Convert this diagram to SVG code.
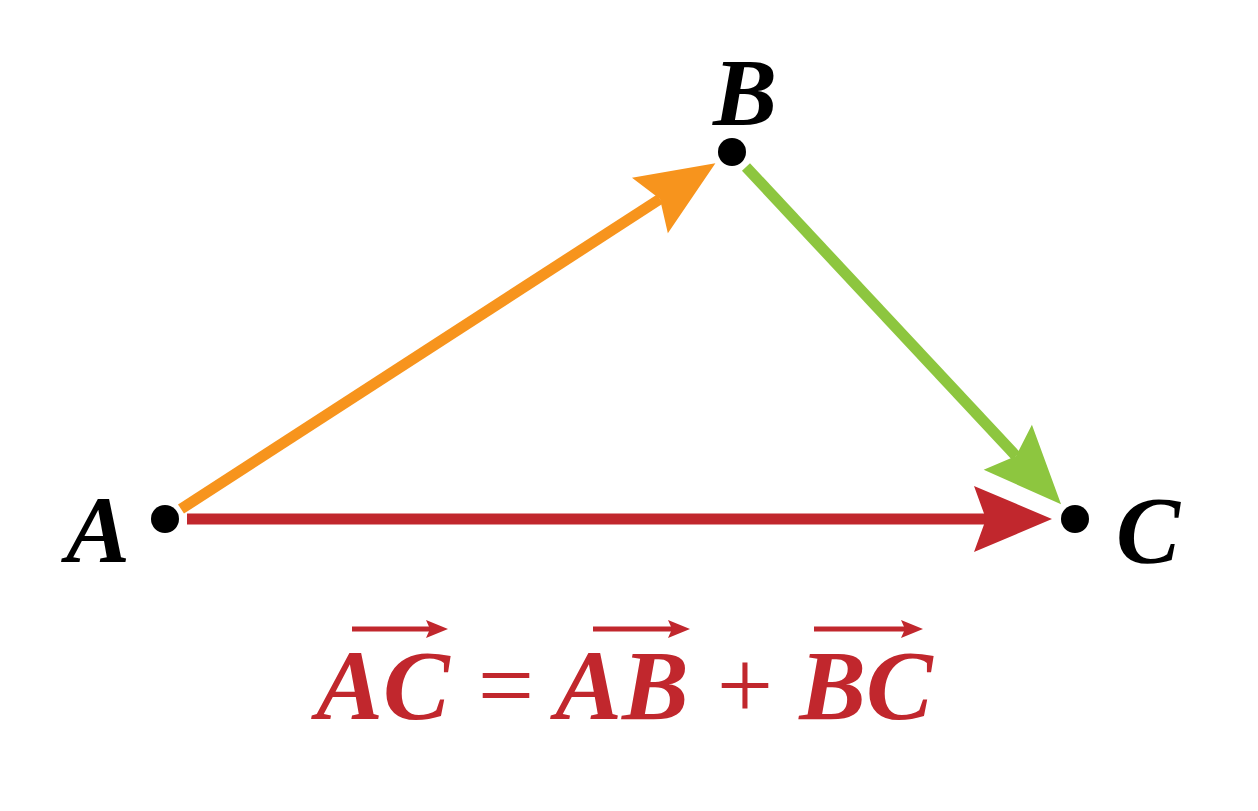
<svg xmlns="http://www.w3.org/2000/svg" width="1258" height="811" viewBox="0 0 1258 811">
<style>
.lbl{font-family:"Liberation Serif",serif;font-style:italic;font-weight:bold;font-size:96px;fill:#000;text-anchor:middle}
.eq{font-family:"Liberation Serif",serif;font-style:italic;font-weight:bold;font-size:100px;fill:#C1272D;text-anchor:middle}
.op{font-family:"Liberation Serif",serif;font-size:100px;fill:#C1272D;text-anchor:middle}
.vec{stroke:#C1272D;stroke-width:5;fill:none}
.dot{fill:#000}
.halo{fill:#fff}
</style>
<defs>
<marker id="hOr" markerUnits="userSpaceOnUse" viewBox="-20 -40 100 80" markerWidth="100" markerHeight="80" refX="0" refY="0" orient="auto" overflow="visible"><path d="M66,0 L-12,-33 L0,0 L-12,33 Z" fill="#F7941D"/></marker>
<marker id="hGr" markerUnits="userSpaceOnUse" viewBox="-20 -40 100 80" markerWidth="100" markerHeight="80" refX="0" refY="0" orient="auto" overflow="visible"><path d="M66,0 L-12,-33 L0,0 L-12,33 Z" fill="#8DC63F"/></marker>
<marker id="hRd" markerUnits="userSpaceOnUse" viewBox="-20 -40 100 80" markerWidth="100" markerHeight="80" refX="0" refY="0" orient="auto" overflow="visible"><path d="M66,0 L-12,-33 L0,0 L-12,33 Z" fill="#C1272D"/></marker>
<path id="vh" d="M0,0 L-22,-9 L-18,0 L-22,9 Z" fill="#C1272D"/>
</defs>
<g id="connectors" fill="none" stroke-width="11">
<line id="AB" x1="181" y1="509" x2="660" y2="199" stroke="#F7941D" marker-end="url(#hOr)"/>
<line id="BC" x1="746" y1="167" x2="1016" y2="456" stroke="#8DC63F" marker-end="url(#hGr)"/>
<line id="AC" x1="187" y1="519" x2="986" y2="519" stroke="#C1272D" marker-end="url(#hRd)"/>
</g>
<g id="node-A">
<circle class="dot" cx="165" cy="519" r="14"/>
<text class="lbl" x="98" y="562">A</text>
</g>
<g id="node-B">
<circle class="dot" cx="732" cy="152" r="14"/>
<text class="lbl" x="745" y="125">B</text>
</g>
<g id="node-C">
<circle class="dot" cx="1075" cy="519" r="14"/>
<text class="lbl" x="1148" y="563">C</text>
</g>
<g id="formula">
<text class="eq" x="383" y="719">AC</text>
<text class="op" x="506" y="719">=</text>
<text class="eq" x="622" y="719">AB</text>
<text class="op" x="745" y="719">+</text>
<text class="eq" x="866" y="719">BC</text>
<line class="vec" x1="352" y1="629" x2="432" y2="629"/>
<use href="#vh" x="448" y="629"/>
<line class="vec" x1="593" y1="629" x2="674" y2="629"/>
<use href="#vh" x="690" y="629"/>
<line class="vec" x1="814" y1="629" x2="907" y2="629"/>
<use href="#vh" x="923" y="629"/>
</g>
</svg>
